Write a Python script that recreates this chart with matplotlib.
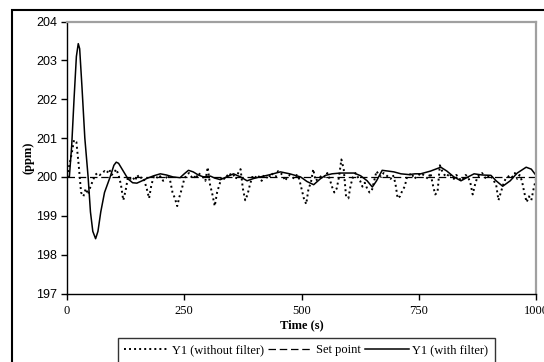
import numpy as np
import matplotlib.pyplot as plt
from matplotlib.patches import Rectangle

# Y1 without filter, one reading every 5 s from 0 to 1000 s
t_raw = np.arange(0, 1001, 5)
y_raw = [
    200.0, 200.3, 200.6, 200.95, 200.9, 200.3, 199.6, 199.5, 199.7, 199.55,
    199.75, 199.9, 200.05, 200.1, 200.05, 200.1, 200.15, 200.1, 200.2, 200.05,
    200.1, 200.2, 200.05, 199.8, 199.4, 199.65, 200.0, 199.95, 200.0, 199.9,
    200.05, 199.95, 200.0, 199.9, 199.7, 199.45, 199.8, 200.0, 199.95, 200.05,
    200.0, 199.9, 199.95, 200.05, 199.9, 199.6, 199.45, 199.25, 199.5, 199.7,
    199.95, 200.05, 200.1, 200.0, 200.05, 199.95, 200.1, 200.05, 200.0, 199.9,
    200.25, 199.8, 199.55, 199.25, 199.6, 199.8, 200.0, 199.95, 200.05, 200.0,
    200.1, 200.05, 199.95, 200.1, 200.2, 199.7, 199.4, 199.55, 199.8, 200.0,
    199.95, 200.05, 200.0, 199.9, 200.05, 200.0, 199.95, 200.1, 200.05, 200.0,
    200.15, 200.1, 200.05, 199.9, 200.0, 200.05, 200.0, 199.95, 200.05, 199.95,
    199.7, 199.45, 199.3, 199.7, 199.85, 200.2, 199.9, 199.95, 200.0, 200.05,
    200.0, 200.1, 199.95, 199.75, 199.6, 199.7, 200.0, 200.45, 200.2, 199.5,
    199.45, 199.8, 200.0, 200.1, 200.0, 199.9, 199.75, 199.85, 199.7, 199.6,
    199.65, 199.9, 200.15, 200.05, 200.0, 200.1, 200.05, 200.0, 199.95, 200.05,
    199.85, 199.45, 199.5, 199.65, 199.75, 200.0, 200.05, 200.1, 199.95, 200.0,
    200.05, 200.1, 200.05, 200.0, 199.95, 200.1, 199.8, 199.55, 199.6, 200.3,
    200.15, 200.05, 200.0, 200.1, 200.0, 199.95, 200.05, 200.0, 199.9, 199.95,
    200.05, 200.0, 199.85, 199.55, 199.8, 200.0, 200.05, 200.1, 200.0, 199.95,
    200.05, 200.0, 199.9, 199.8, 199.4, 199.6, 199.8, 199.95, 200.0, 200.05,
    200.0, 200.1, 199.95, 200.05, 199.9, 199.6, 199.35, 199.5, 199.4, 199.7,
    199.95,
]

# Y1 with filter
t_filt = [0, 5, 10, 15, 20, 24, 27, 32, 38, 45, 50, 55, 61, 66, 72, 80, 92, 100,
          105, 110, 120, 130, 140, 149, 160, 170, 185, 199, 212, 226, 241, 250,
          259, 269, 280, 291, 306, 315, 327, 340, 355, 370, 384, 398, 412, 430,
          455, 475, 498, 512, 526, 540, 551, 565, 583, 598, 612, 626, 640, 651,
          660, 672, 685, 697, 712, 729, 742, 754, 775, 797, 810, 825, 840, 855,
          868, 885, 904, 915, 929, 945, 960, 979, 990, 1000]
y_filt = [200.0, 200.0, 200.8, 202.0, 203.1, 203.43, 203.3, 202.3, 201.0, 200.0,
          199.1, 198.6, 198.41, 198.6, 199.1, 199.6, 200.0, 200.3, 200.38, 200.35,
          200.15, 199.95, 199.85, 199.84, 199.9, 199.96, 200.03, 200.08, 200.05,
          200.0, 199.98, 200.08, 200.17, 200.13, 200.05, 200.0, 200.02, 199.97,
          199.93, 200.0, 200.08, 200.0, 199.9, 199.96, 200.0, 200.05, 200.13,
          200.08, 200.0, 199.88, 199.8, 199.95, 200.04, 200.08, 200.1, 200.1,
          200.1, 200.03, 199.9, 199.74, 199.9, 200.17, 200.15, 200.13, 200.08,
          200.06, 200.08, 200.08, 200.15, 200.25, 200.15, 200.0, 199.9, 200.0,
          200.08, 200.05, 200.04, 199.9, 199.76, 199.9, 200.1, 200.25, 200.2,
          200.04]

set_point = 200
x_ticks = [0, 250, 500, 750, 1000]
y_ticks = [197, 198, 199, 200, 201, 202, 203, 204]

fig = plt.figure(figsize=(5.44, 3.62), dpi=100)
ax = fig.add_axes([67/544, 1 - 293.5/362, (536 - 67)/544, (293.5 - 21.5)/362])

ax.plot(t_raw, y_raw, color='black', lw=1.4, linestyle=(0, (1, 1.6)),
        label='Y1 (without filter)')
ax.plot([0, 1000], [set_point, set_point], color='black', lw=0.9,
        linestyle=(0, (6, 3)), label='Set point')
ax.plot(t_filt, y_filt, color='black', lw=1.1, label='Y1 (with filter)')

ax.set_xlim(0, 1000)
ax.set_ylim(197, 204)
ax.set_xticks(x_ticks)
ax.set_yticks(y_ticks)
ax.tick_params(direction='out', length=4, width=1)
ax.tick_params(axis='x', pad=4)
ax.tick_params(axis='y', pad=3)
for lab in ax.get_xticklabels():
    lab.set_fontfamily('Liberation Serif')
    lab.set_fontsize(9)
for lab in ax.get_yticklabels():
    lab.set_fontfamily('Liberation Sans')
    lab.set_fontsize(9)

ax.set_xlabel('Time (s)', fontfamily='Liberation Serif', fontweight='bold',
              fontsize=9, labelpad=2)
ax.set_ylabel('(ppm)', fontfamily='Liberation Serif', fontweight='bold',
              fontsize=9, labelpad=1)

ax.spines['top'].set_color('#a0a0a0')
ax.spines['right'].set_color('#a0a0a0')
ax.spines['top'].set_linewidth(1.6)
ax.spines['right'].set_linewidth(1.6)
ax.spines['left'].set_linewidth(1)
ax.spines['bottom'].set_linewidth(1)

# outer frame of the chart
fig.patches.append(Rectangle((12/544, -0.2), 1.2, 0.2 + 1 - 10.5/362,
                             transform=fig.transFigure, fill=False,
                             edgecolor='black', lw=1.5))

leg = fig.legend(loc='upper left', bbox_to_anchor=(118/544, 1 - 338/362),
                 ncol=3, frameon=True, fancybox=False, edgecolor='black',
                 handlelength=3.5, handletextpad=0.3, columnspacing=0.35,
                 borderpad=0.5, borderaxespad=0,
                 prop={'family': 'Liberation Serif', 'size': 9})
leg.get_frame().set_linewidth(1)

fig.savefig('out.png', dpi=100)
